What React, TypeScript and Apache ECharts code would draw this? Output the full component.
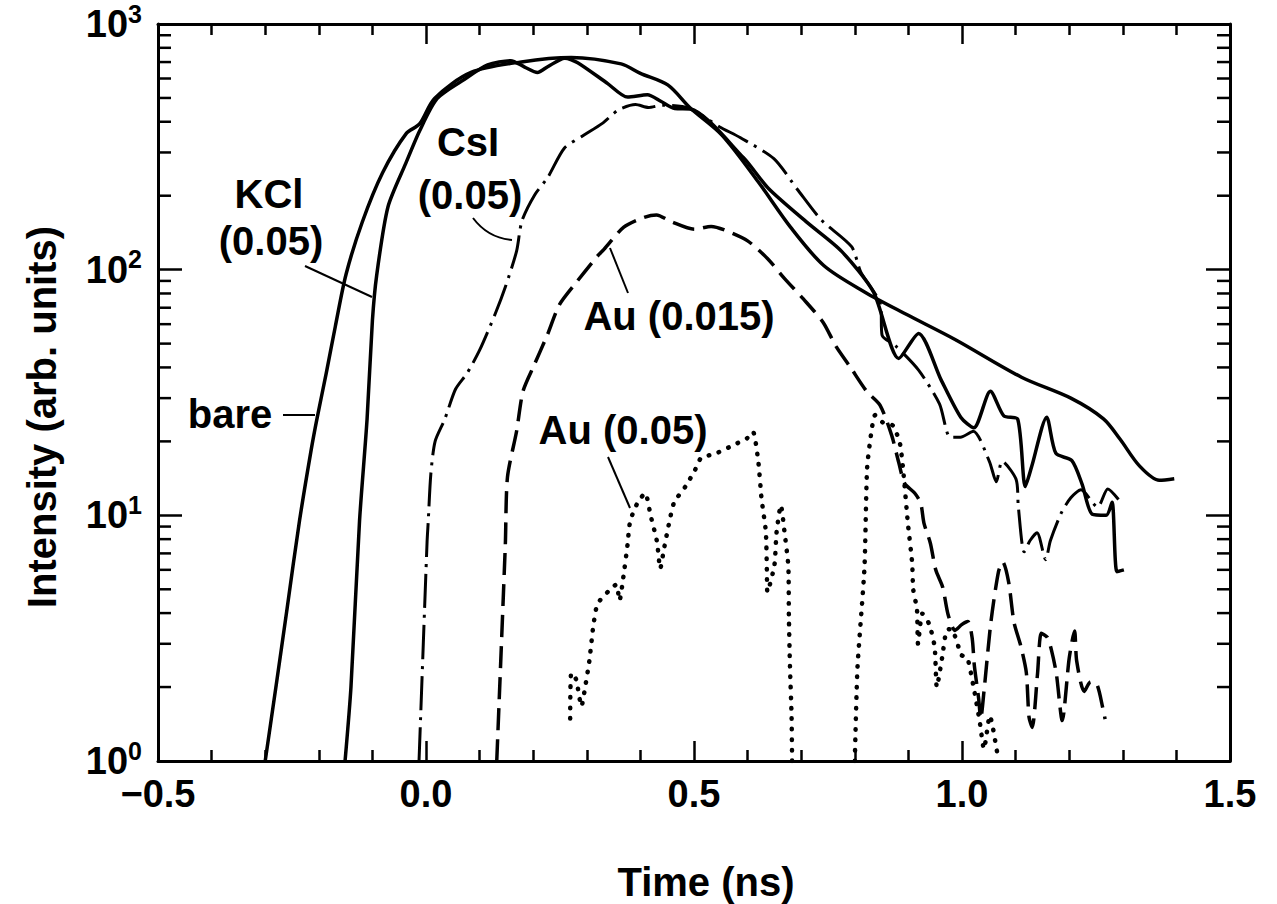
import React, { useEffect, useRef } from 'react';
import * as echarts from 'echarts';

// ---------- data (time in ns, intensity in arb. units) ----------
const bareT = [-0.300, -0.280, -0.259, -0.236, -0.214, -0.203, -0.186, -0.169, -0.149, -0.119, -0.081, -0.037, -0.012, 0.016, 0.084, 0.178, 0.271, 0.364, 0.400, 0.451, 0.493, 0.552, 0.619, 0.680, 0.742, 0.819, 0.895, 0.987, 1.111, 1.203, 1.264, 1.295, 1.331, 1.368, 1.396];
const bareI = [1.0, 2.0, 4.2, 9.5, 18.6, 25, 38, 59, 96, 156, 248, 358, 392, 498, 635, 701, 731, 688, 630, 565, 455, 353, 229, 149, 104, 81, 66, 52, 36.5, 30, 24.7, 20.4, 15.9, 13.9, 14.1];

const kclT = [-0.151, -0.140, -0.124, -0.110, -0.100, -0.092, -0.071, -0.038, -0.012, 0.021, 0.072, 0.115, 0.158, 0.184, 0.208, 0.227, 0.259, 0.283, 0.339, 0.376, 0.413, 0.438, 0.464, 0.493, 0.592, 0.639, 0.712, 0.775, 0.835, 0.882, 0.919, 0.961, 0.998, 1.022, 1.053, 1.078, 1.104, 1.118, 1.130, 1.158, 1.175, 1.205, 1.224, 1.243, 1.269, 1.280, 1.289, 1.302];
const kclI = [1.0, 2.0, 9.5, 24.5, 62, 95, 180, 270, 367, 498, 596, 681, 709, 668, 635, 670, 726, 696, 572, 504, 515, 485, 453, 451, 286, 214, 155, 119, 81, 43.5, 55, 35.6, 25, 22.7, 32, 25.4, 24.6, 13.1, 15.8, 25.1, 17.9, 16.7, 13.4, 10.1, 10, 11.3, 5.9, 6.0];

const csiT = [-0.013, 0.002, 0.004, 0.009, 0.017, 0.035, 0.055, 0.077, 0.100, 0.129, 0.148, 0.169, 0.179, 0.203, 0.227, 0.258, 0.292, 0.329, 0.359, 0.391, 0.415, 0.441, 0.490, 0.548, 0.586, 0.649, 0.693, 0.738, 0.794, 0.811, 0.848, 0.851, 0.876, 0.919, 0.958, 0.978, 0.997, 1.021, 1.051, 1.064, 1.075, 1.101, 1.105, 1.116, 1.127, 1.140, 1.156, 1.165, 1.185, 1.203, 1.222, 1.253, 1.272, 1.292];
const csiI = [1.0, 7.8, 9.3, 14.7, 20, 24.6, 32.6, 38, 47, 66, 85, 119, 158, 202, 237, 312, 350, 394, 447, 470, 457, 467, 455, 381, 345, 283, 212, 159, 124, 98, 72, 54, 49, 39, 28.4, 20.8, 20.8, 22, 16.6, 13.7, 16.6, 14, 10.9, 7.1, 7.9, 8.5, 6.6, 7.9, 10.2, 11.8, 12.7, 10.8, 12.8, 11.6];

const au015T = [0.132, 0.148, 0.152, 0.169, 0.181, 0.202, 0.226, 0.249, 0.280, 0.319, 0.332, 0.369, 0.406, 0.430, 0.457, 0.501, 0.532, 0.557, 0.600, 0.637, 0.669, 0.704, 0.741, 0.765, 0.792, 0.822, 0.847, 0.869, 0.882, 0.893, 0.912, 0.923, 0.929, 0.941, 0.951, 0.964, 0.974, 0.987, 1.000, 1.011, 1.019, 1.023, 1.031, 1.035, 1.041, 1.054, 1.068, 1.076, 1.087, 1.097, 1.110, 1.120, 1.125, 1.131, 1.141, 1.148, 1.159, 1.167, 1.176, 1.187, 1.200, 1.210, 1.214, 1.228, 1.240, 1.252, 1.263, 1.267];
const au015I = [1.0, 7.6, 14.3, 22, 32, 41, 54, 72, 88.5, 113, 121, 149, 163, 167, 157, 146, 150, 145, 131, 111, 92, 76, 61, 48.7, 40, 32, 28.1, 21.1, 16.4, 13.5, 12.3, 11.2, 9.3, 7.7, 6.0, 5.1, 3.95, 3.4, 3.6, 3.7, 3.16, 2.45, 1.8, 1.49, 1.92, 3.69, 5.89, 6.46, 5.35, 3.67, 2.92, 2.29, 1.51, 1.37, 2.28, 3.31, 3.19, 2.82, 2.27, 1.46, 2.62, 3.38, 2.55, 1.92, 2.1, 2.04, 1.63, 1.48];

const au05aT = [0.269, 0.271, 0.280, 0.290, 0.297, 0.305, 0.312, 0.320, 0.342, 0.355, 0.361, 0.368, 0.376, 0.381, 0.396, 0.409, 0.419, 0.431, 0.437, 0.444, 0.454, 0.463, 0.484, 0.502, 0.513, 0.542, 0.571, 0.599, 0.610, 0.620, 0.626, 0.634, 0.636, 0.637, 0.650, 0.654, 0.662, 0.669, 0.676, 0.677, 0.679, 0.682, 0.683];
const au05aI = [1.49, 2.28, 2.15, 1.67, 2.0, 2.58, 3.52, 4.36, 4.95, 5.23, 4.5, 5.57, 7.6, 9.5, 11.4, 12.3, 10, 7.8, 6.06, 7.3, 9.4, 11.3, 13.1, 15.3, 17.1, 17.9, 19.2, 20.6, 21.9, 16.5, 11.7, 8.6, 5.9, 4.87, 6.26, 8.5, 11.0, 8.5, 6.2, 3.9, 2.44, 1.53, 1.0];
const au05bT = [0.800, 0.805, 0.818, 0.823, 0.832, 0.838, 0.852, 0.871, 0.884, 0.890, 0.899, 0.907, 0.909, 0.916, 0.918, 0.926, 0.939, 0.949, 0.953, 0.963, 0.971, 0.980, 0.999, 1.010, 1.022, 1.033, 1.041, 1.052, 1.057, 1.066];
const au05bI = [1.0, 2.4, 6.1, 15.6, 22.7, 25.6, 23.9, 23.2, 19.7, 15.5, 9.3, 6.4, 5.0, 4.14, 3.0, 3.98, 3.6, 2.91, 2.0, 2.64, 3.4, 3.45, 2.7, 2.63, 1.98, 1.45, 1.12, 1.53, 1.39, 1.07];

const xMin = -0.5;
const xMax = 1.5;
const xInterval = 0.5;
const yMin = 1;
const yMax = 1000;
const yMinorTicks = [2, 3, 4, 5, 6, 7, 8, 9, 20, 30, 40, 50, 60, 70, 80, 90, 200, 300, 400, 500, 600, 700, 800, 900];

const xTitle = 'Time (ns)';
const yTitle = 'Intensity (arb. units)';

const pairs = (t: number[], v: number[]) => t.map((x, i) => [x, v[i]]);

const FONT = '"Liberation Sans", Arial, Helvetica, sans-serif';
const BLACK = '#000';

export default function App() {
  const ref = useRef<HTMLDivElement>(null);

  useEffect(() => {
    if (!ref.current) return;
    const chart = echarts.init(ref.current, null, { renderer: 'svg' });

    const xAxisBase = (position: 'bottom' | 'top', showLabel: boolean) => ({
      type: 'value',
      position,
      min: xMin,
      max: xMax,
      interval: xInterval,
      axisLine: { show: true, onZero: false, lineStyle: { color: BLACK, width: 3 } },
      axisTick: { show: true, inside: true, length: 20, lineStyle: { color: BLACK, width: 2.5 } },
      minorTick: { show: true, splitNumber: 5, length: 11, lineStyle: { color: BLACK, width: 2.5 } },
      splitLine: { show: false },
      minorSplitLine: { show: false },
      axisLabel: {
        show: showLabel,
        showMinLabel: true,
        showMaxLabel: true,
        margin: 14,
        color: BLACK,
        fontSize: 38,
        fontWeight: 'bold',
        fontFamily: FONT,
        formatter: (v: number) => (v < 0 ? '\u2212' + Math.abs(v).toFixed(1) : v.toFixed(1)),
      },
    });

    const yAxisBase = (position: 'left' | 'right', showLabel: boolean) => ({
      type: 'log',
      logBase: 10,
      position,
      min: yMin,
      max: yMax,
      axisLine: { show: true, onZero: false, lineStyle: { color: BLACK, width: 3 } },
      axisTick: { show: true, inside: true, length: 24, lineStyle: { color: BLACK, width: 2.5 } },
      minorTick: { show: false },
      splitLine: { show: false },
      axisLabel: {
        show: showLabel,
        margin: 16,
        formatter: (v: number) => `{b|10}{s|${Math.round(Math.log10(v))}}`,
        rich: {
          b: { fontSize: 38, fontWeight: 'bold', fontFamily: FONT, color: BLACK, lineHeight: 46 },
          s: { fontSize: 25, fontWeight: 'bold', fontFamily: FONT, color: BLACK, verticalAlign: 'top' },
        },
      },
    });

    const lineSeries = (name: string, data: number[][], lineStyle: any, smooth = 0.3) => ({
      type: 'line',
      name,
      data,
      showSymbol: false,
      symbol: 'none',
      smooth,
      silent: true,
      lineStyle: { color: BLACK, ...lineStyle },
      z: 3,
    });

    const textEl = (text: string, x: number, y: number, extra: any = {}) => ({
      type: 'text',
      x,
      y,
      ...extra,
      style: {
        text,
        fill: BLACK,
        font: `bold 40px ${FONT}`,
        align: 'center',
        verticalAlign: 'middle',
      },
      z: 10,
    });

    const leader = (x1: number, y1: number, x2: number, y2: number) => ({
      type: 'line',
      shape: { x1, y1, x2, y2 },
      style: { stroke: BLACK, lineWidth: 2 },
      z: 10,
    });

    chart.setOption({
      animation: false,
      backgroundColor: '#fff',
      grid: { left: 158, right: 47, top: 24, bottom: 143, containLabel: false },
      xAxis: [xAxisBase('bottom', true), xAxisBase('top', false)],
      yAxis: [yAxisBase('left', true), yAxisBase('right', false)],
      series: [
        lineSeries('bare', pairs(bareT, bareI), { width: 3.5, type: 'solid' }),
        lineSeries('KCl (0.05)', pairs(kclT, kclI), { width: 3.5, type: 'solid' }, 0.25),
        lineSeries('CsI (0.05)', pairs(csiT, csiI), { width: 3, type: [34, 7, 3, 7] }, 0.25),
        lineSeries('Au (0.015)', pairs(au015T, au015I), { width: 3.5, type: [22, 9] }, 0.25),
        lineSeries('Au (0.05)', pairs(au05aT, au05aI), { width: 4.5, type: [0.5, 10], cap: 'round' }, 0.2),
        lineSeries('Au (0.05) ', pairs(au05bT, au05bI), { width: 4.5, type: [0.5, 10], cap: 'round' }, 0.2),
        {
          type: 'custom',
          name: 'minor ticks',
          coordinateSystem: 'cartesian2d',
          silent: true,
          data: yMinorTicks.map((v) => [xMin, v]),
          encode: { x: 0, y: 1 },
          renderItem: (params: any, api: any) => {
            const v = api.value(1);
            const pl = api.coord([xMin, v]);
            const pr = api.coord([xMax, v]);
            return {
              type: 'group',
              children: [
                { type: 'line', shape: { x1: pl[0], y1: pl[1], x2: pl[0] + 13, y2: pl[1] }, style: { stroke: BLACK, lineWidth: 2.5 } },
                { type: 'line', shape: { x1: pr[0] - 13, y1: pr[1], x2: pr[0], y2: pr[1] }, style: { stroke: BLACK, lineWidth: 2.5 } },
              ],
            };
          },
          z: 4,
        },
      ],
      graphic: [
        textEl(xTitle, 706, 882, {}),
        textEl(yTitle, 42, 417, { rotation: Math.PI / 2 }),
        textEl('KCl', 269, 194),
        textEl('(0.05)', 271, 241),
        leader(305, 266, 372, 297),
        textEl('CsI', 468, 142),
        textEl('(0.05)', 470, 195),
        {
          type: 'bezierCurve',
          shape: { x1: 473, y1: 218, cpx1: 488, cpy1: 238, x2: 512, y2: 240 },
          style: { stroke: BLACK, lineWidth: 2, fill: 'none' },
          z: 10,
        },
        textEl('bare', 230, 414),
        leader(283, 415, 315, 415),
        textEl('Au (0.015)', 679, 316),
        leader(610, 248, 628, 293),
        textEl('Au (0.05)', 623, 430),
        leader(608, 457, 630, 508),
      ],
    });

    return () => chart.dispose();
  }, []);

  return (
    <div
      ref={ref}
      style={{ position: 'fixed', left: 0, top: 0, width: 1277, height: 904, background: '#fff' }}
    />
  );
}
